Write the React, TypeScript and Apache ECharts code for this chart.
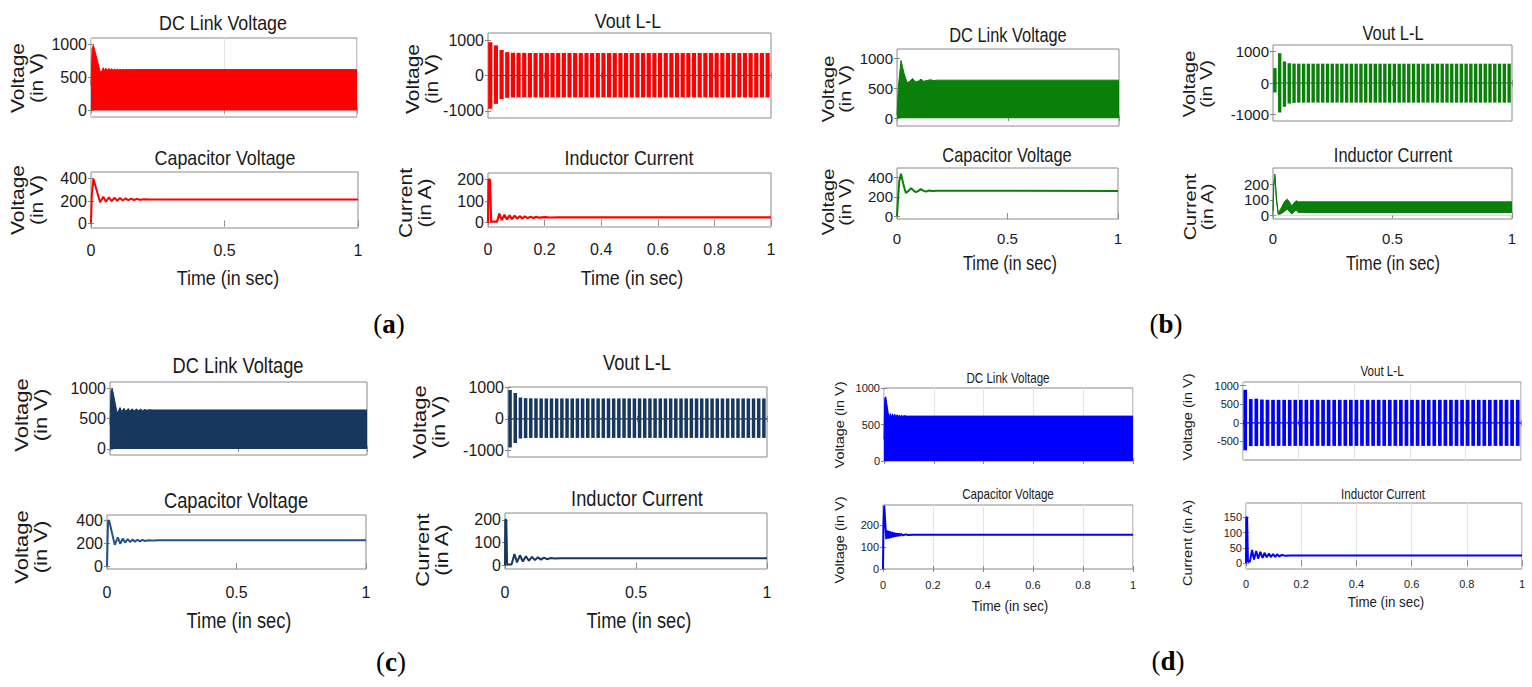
import { useEffect, useRef } from "react";
import * as echarts from "echarts";

const SANS = '"Liberation Sans", Arial, Helvetica, sans-serif';
const SERIF = '"Liberation Serif", "Times New Roman", serif';

// ---------------- data ----------------
// 50 Hz output pulses (one stripe per cycle)
const stripeTimes = [
  0.008, 0.028, 0.048, 0.068, 0.088, 0.108, 0.128, 0.148, 0.168, 0.188,
  0.208, 0.228, 0.248, 0.268, 0.288, 0.308, 0.328, 0.348, 0.368, 0.388,
  0.408, 0.428, 0.448, 0.468, 0.488, 0.508, 0.528, 0.548, 0.568, 0.588,
  0.608, 0.628, 0.648, 0.668, 0.688, 0.708, 0.728, 0.748, 0.768, 0.788,
  0.808, 0.828, 0.848, 0.868, 0.888, 0.908, 0.928, 0.948, 0.968, 0.988,
];

// Panel (a)
const dcTimeA = [0, 0.004, 0.009, 0.035, 0.041, 0.046, 0.051, 0.056, 0.062, 0.067, 0.072, 0.077, 0.083, 0.088, 0.093, 0.098, 0.104, 0.109, 0.114, 0.119, 0.125, 0.13, 0.14, 0.16, 1];
const dcEnvA = [380, 940, 990, 585, 600, 648, 602, 642, 606, 638, 609, 634, 611, 631, 613, 628, 615, 626, 616, 624, 617, 622, 620, 620, 620];
const capTimeA = [0, 0.003, 0.009, 0.034, 0.046, 0.056, 0.067, 0.077, 0.088, 0.098, 0.109, 0.119, 0.13, 0.14, 0.151, 0.161, 0.172, 0.182, 0.2, 0.22, 1];
const capA = [0, 250, 400, 190, 240, 195, 235, 200, 230, 203, 228, 205, 225, 208, 222, 210, 220, 212, 216, 215, 215];
const voutPosA = [
  940, 850, 720, 660, 645, 640, 638, 636, 635, 635,
  635, 635, 635, 635, 635, 635, 635, 635, 635, 635,
  635, 635, 635, 635, 635, 635, 635, 635, 635, 635,
  635, 635, 635, 635, 635, 635, 635, 635, 635, 635,
  635, 635, 635, 635, 635, 635, 635, 635, 635, 635,
];
const voutNegA = [
  -940, -800, -665, -630, -622, -620, -620, -620, -620, -620,
  -620, -620, -620, -620, -620, -620, -620, -620, -620, -620,
  -620, -620, -620, -620, -620, -620, -620, -620, -620, -620,
  -620, -620, -620, -620, -620, -620, -620, -620, -620, -620,
  -620, -620, -620, -620, -620, -620, -620, -620, -620, -620,
];
const indTimeA = [0, 0.002, 0.007, 0.011, 0.032, 0.04, 0.049, 0.058, 0.067, 0.076, 0.085, 0.094, 0.103, 0.112, 0.121, 0.13, 0.14, 0.15, 0.16, 0.17, 0.18, 0.2, 0.22, 0.25, 1];
const indA = [0, 200, 200, 5, 5, 42, 12, 37, 15, 34, 17, 32, 19, 30, 20, 29, 21, 28, 22, 27, 23, 26, 24, 25, 25];

// Panel (b)
const dcTimeB = [0, 0.006, 0.018, 0.032, 0.046, 0.058, 0.07, 0.084, 0.096, 0.108, 0.12, 0.135, 0.15, 0.165, 0.18, 1];
const dcEnvB = [60, 520, 960, 740, 590, 615, 660, 600, 615, 650, 615, 625, 640, 625, 632, 632];
const capTimeB = [0, 0.004, 0.01, 0.018, 0.028, 0.04, 0.052, 0.064, 0.075, 0.086, 0.097, 0.108, 0.12, 0.132, 0.145, 0.16, 0.18, 1];
const capB = [0, 150, 360, 440, 340, 240, 262, 290, 265, 248, 262, 280, 262, 255, 266, 260, 263, 262];
const voutPosB = [
  470, 940, 680, 625, 612, 610, 610, 610, 610, 610,
  610, 610, 610, 610, 610, 610, 610, 610, 610, 610,
  610, 610, 610, 610, 610, 610, 610, 610, 610, 610,
  610, 610, 610, 610, 610, 610, 610, 610, 610, 610,
  610, 610, 610, 610, 610, 610, 610, 610, 610, 610,
];
const voutNegB = [
  -300, -930, -750, -650, -628, -620, -620, -620, -620, -620,
  -620, -620, -620, -620, -620, -620, -620, -620, -620, -620,
  -620, -620, -620, -620, -620, -620, -620, -620, -620, -620,
  -620, -620, -620, -620, -620, -620, -620, -620, -620, -620,
  -620, -620, -620, -620, -620, -620, -620, -620, -620, -620,
];
// inductor current band (ripple envelope): upper and lower edges
const indTimeB = [0, 0.003, 0.008, 0.014, 0.022, 0.035, 0.048, 0.06, 0.07, 0.078, 0.088, 0.097, 0.105, 0.115, 1];
const indHighB = [30, 200, 270, 120, 12, 50, 90, 105, 85, 60, 80, 95, 88, 88, 88];
const indLowB = [0, 190, 250, 100, 5, 10, 25, 40, 20, 8, 20, 35, 18, 18, 18];

// Panel (c)
const dcTimeC = [0, 0.004, 0.009, 0.028, 0.039, 0.046, 0.054, 0.062, 0.071, 0.078, 0.086, 0.094, 0.103, 0.111, 0.119, 0.127, 0.136, 0.144, 0.152, 0.165, 1];
const dcEnvC = [400, 960, 990, 585, 680, 610, 670, 618, 665, 622, 660, 626, 655, 630, 652, 633, 648, 636, 645, 640, 640];
const capTimeC = [0, 0.004, 0.008, 0.03, 0.042, 0.051, 0.061, 0.07, 0.08, 0.089, 0.099, 0.108, 0.118, 0.127, 0.137, 0.147, 0.16, 0.18, 0.2, 1];
const capC = [0, 390, 400, 185, 250, 195, 240, 205, 236, 210, 232, 213, 230, 216, 228, 219, 226, 222, 225, 225];
const voutPosC = [
  905, 810, 670, 650, 645, 642, 640, 640, 640, 640,
  640, 640, 640, 640, 640, 640, 640, 640, 640, 640,
  640, 640, 640, 640, 640, 640, 640, 640, 640, 640,
  640, 640, 640, 640, 640, 640, 640, 640, 640, 640,
  640, 640, 640, 640, 640, 640, 640, 640, 640, 640,
];
const voutNegC = [
  -900, -760, -620, -605, -600, -600, -600, -600, -600, -600,
  -600, -600, -600, -600, -600, -600, -600, -600, -600, -600,
  -600, -600, -600, -600, -600, -600, -600, -600, -600, -600,
  -600, -600, -600, -600, -600, -600, -600, -600, -600, -600,
  -600, -600, -600, -600, -600, -600, -600, -600, -600, -600,
];
const indTimeC = [0, 0.001, 0.005, 0.008, 0.025, 0.036, 0.046, 0.057, 0.068, 0.08, 0.091, 0.103, 0.114, 0.126, 0.137, 0.149, 0.16, 0.175, 0.19, 0.21, 1];
const indC = [0, 200, 200, 5, 5, 50, 14, 45, 18, 41, 21, 38, 24, 36, 26, 35, 28, 33, 31, 32, 32];

// Panel (d)
const dcTimeD = [0, 0.003, 0.007, 0.02, 0.025, 0.029, 0.034, 0.039, 0.043, 0.048, 0.053, 0.057, 0.062, 0.067, 0.071, 0.076, 0.081, 0.09, 0.1, 1];
const dcEnvD = [300, 860, 880, 585, 650, 598, 645, 602, 640, 605, 635, 607, 630, 609, 626, 611, 622, 615, 615, 615];
const capTimeD = [0, 0.002, 0.005, 0.008, 0.013, 0.018, 0.022, 0.027, 0.031, 0.036, 0.04, 0.045, 0.049, 0.054, 0.058, 0.063, 0.067, 0.072, 0.08, 0.09, 0.1, 0.12, 1];
const capD = [0, 200, 288, 230, 135, 175, 138, 172, 140, 168, 143, 166, 146, 163, 148, 161, 150, 159, 152, 157, 154, 155, 155];
const voutPosD = [
  890, 640, 650, 628, 622, 620, 620, 620, 620, 620,
  620, 620, 620, 620, 620, 620, 620, 620, 620, 620,
  620, 620, 620, 620, 620, 620, 620, 620, 620, 620,
  620, 620, 620, 620, 620, 620, 620, 620, 620, 620,
  620, 620, 620, 620, 620, 620, 620, 620, 620, 620,
];
const voutNegD = [
  -740, -625, -625, -622, -620, -620, -620, -620, -620, -620,
  -620, -620, -620, -620, -620, -620, -620, -620, -620, -620,
  -620, -620, -620, -620, -620, -620, -620, -620, -620, -620,
  -620, -620, -620, -620, -620, -620, -620, -620, -620, -620,
  -620, -620, -620, -620, -620, -620, -620, -620, -620, -620,
];
const indTimeD = [0, 0.001, 0.004, 0.007, 0.014, 0.022, 0.029, 0.037, 0.044, 0.052, 0.06, 0.067, 0.075, 0.083, 0.09, 0.098, 0.106, 0.113, 0.121, 0.13, 0.145, 0.16, 1];
const indD = [0, 150, 150, 5, 5, 43, 12, 40, 15, 37, 17, 34, 19, 32, 20, 30, 21, 29, 22, 27, 24, 25, 25];

// zero reference of the line-to-line voltage
const zeroTimes = [0, 1];
const zeroVals = [0, 0];

// tick labels
const yTicksDC = [0, 500, 1000];
const yTicksCap = [0, 200, 400];
const yTicksVout = [-1000, 0, 1000];
const yTicksInd = [0, 100, 200];
const yTicksCapD = [0, 100, 200];
const yTicksVoutD = [-500, 0, 500, 1000];
const yTicksIndD = [0, 50, 100, 150];

const titles = ["DC Link Voltage", "Capacitor Voltage", "Vout L-L", "Inductor Current"];
const xTitle = "Time (in sec)";
const yTitleV = "Voltage (in V)";
const yTitleI = "Current (in A)";
const panelLetters = ["a", "b", "c", "d"];

// ---------------- helpers ----------------
const zip = (t: number[], v: number[]) => t.map((x, i) => [x, v[i]]);

type Sub = {
  box: number[];
  y: number[];
  yTicks: number[];
  xStep: number;
  xLabels: boolean;
  fs: number;
  xMargin: number;
  gridX: boolean;
};

const COL_A = "#ff0000";
const COL_B = "#0a7f0a";
const COL_C = "#17375e";
const COL_C2 = "#24528a";
const COL_D = "#0000ff";
const BORDER = "#8a8a8a";
const INK = "#1a1a1a";

const subs: Sub[] = [
  // (a)
  { box: [91, 38, 357, 117], y: [-100, 1100], yTicks: yTicksDC, xStep: 0.5, xLabels: false, fs: 16, xMargin: 14, gridX: true },
  { box: [91, 172, 358, 228], y: [-40, 460], yTicks: yTicksCap, xStep: 0.5, xLabels: true, fs: 16, xMargin: 14, gridX: false },
  { box: [488, 33, 771, 118], y: [-1200, 1200], yTicks: yTicksVout, xStep: 0.2, xLabels: false, fs: 16, xMargin: 14, gridX: false },
  { box: [488, 173, 771, 227], y: [-20, 230], yTicks: yTicksInd, xStep: 0.2, xLabels: true, fs: 16, xMargin: 14, gridX: false },
  // (b)
  { box: [897, 49, 1119, 126], y: [-130, 1150], yTicks: yTicksDC, xStep: 0.5, xLabels: false, fs: 15, xMargin: 12, gridX: false },
  { box: [897, 168, 1118, 219], y: [-30, 500], yTicks: yTicksCap, xStep: 0.5, xLabels: true, fs: 15, xMargin: 12, gridX: false },
  { box: [1273, 45, 1512, 121], y: [-1200, 1200], yTicks: yTicksVout, xStep: 0.5, xLabels: false, fs: 15, xMargin: 12, gridX: false },
  { box: [1273, 168, 1512, 219], y: [-25, 310], yTicks: yTicksInd, xStep: 0.5, xLabels: true, fs: 15, xMargin: 12, gridX: false },
  // (c)
  { box: [110, 382, 367, 455], y: [-100, 1100], yTicks: yTicksDC, xStep: 0.5, xLabels: false, fs: 16, xMargin: 15, gridX: false },
  { box: [107, 515, 366, 569], y: [-25, 445], yTicks: yTicksCap, xStep: 0.5, xLabels: true, fs: 16, xMargin: 15, gridX: false },
  { box: [508, 387, 767, 457], y: [-1200, 1000], yTicks: yTicksVout, xStep: 0.5, xLabels: false, fs: 16, xMargin: 15, gridX: false },
  { box: [505, 513, 767, 569], y: [-15, 230], yTicks: yTicksInd, xStep: 0.5, xLabels: true, fs: 16, xMargin: 15, gridX: false },
  // (d)
  { box: [884, 388, 1133, 461], y: [0, 1000], yTicks: yTicksDC, xStep: 0.2, xLabels: false, fs: 11, xMargin: 10, gridX: true },
  { box: [883, 505, 1133, 569], y: [0, 290], yTicks: yTicksCapD, xStep: 0.2, xLabels: true, fs: 11, xMargin: 10, gridX: true },
  { box: [1243, 382, 1521, 460], y: [-1000, 1100], yTicks: yTicksVoutD, xStep: 0.2, xLabels: false, fs: 11, xMargin: 9, gridX: true },
  { box: [1246, 503, 1522, 569], y: [-19, 197], yTicks: yTicksIndD, xStep: 0.2, xLabels: true, fs: 11, xMargin: 9, gridX: true },
];

const plain = (v: number) => String(v);

function areaSeries(i: number, t: number[], v: number[], color: string) {
  return {
    type: "line", xAxisIndex: i, yAxisIndex: i, data: zip(t, v), symbol: "none", silent: true,
    lineStyle: { color, width: 1 }, itemStyle: { color }, areaStyle: { color, opacity: 1 },
  };
}
function lineSeries(i: number, t: number[], v: number[], color: string, width: number) {
  return {
    type: "line", xAxisIndex: i, yAxisIndex: i, data: zip(t, v), symbol: "none", silent: true,
    lineStyle: { color, width }, itemStyle: { color },
  };
}
function stripeSeries(i: number, pos: number[], neg: number[], color: string, bw: number) {
  const stack = "vout" + i;
  return [
    { type: "bar", xAxisIndex: i, yAxisIndex: i, stack, data: zip(stripeTimes, pos), barWidth: bw, itemStyle: { color }, silent: true },
    { type: "bar", xAxisIndex: i, yAxisIndex: i, stack, data: zip(stripeTimes, neg), barWidth: bw, itemStyle: { color }, silent: true },
    lineSeries(i, zeroTimes, zeroVals, color, 1.2),
  ];
}
// ripple band: filled up to the upper edge, then cleared below the lower edge
function bandSeries(i: number, t: number[], low: number[], high: number[], color: string) {
  return [
    {
      type: "line", xAxisIndex: i, yAxisIndex: i, data: zip(t, high), symbol: "none", silent: true,
      lineStyle: { color, width: 1 }, itemStyle: { color }, areaStyle: { color, opacity: 1 },
    },
    {
      type: "line", xAxisIndex: i, yAxisIndex: i, data: zip(t, low), symbol: "none", silent: true,
      lineStyle: { color, width: 1 }, itemStyle: { color }, areaStyle: { color: "#ffffff", opacity: 1 },
    },
  ];
}

function txt(text: string, x: number, y: number, fs: number, sx: number, rotated = false) {
  return {
    type: "text", x, y, silent: true,
    rotation: rotated ? Math.PI / 2 : 0,
    scaleX: rotated ? 1 : sx,
    scaleY: rotated ? sx : 1,
    style: {
      text, fontSize: fs, fontFamily: SANS, fill: INK, lineHeight: Math.round(fs * 1.0),
      align: "center", verticalAlign: "middle", textAlign: "center", textVerticalAlign: "middle",
    },
  };
}
function letter(l: string, x: number, y: number) {
  return {
    type: "text", x, y, silent: true,
    style: {
      text: "{p|(}{b|" + l + "}{p|)}",
      fontSize: 27, fontFamily: SERIF, fill: "#000",
      align: "center", verticalAlign: "middle", textAlign: "center", textVerticalAlign: "middle",
      rich: {
        p: { fontSize: 27, fontFamily: SERIF, fontWeight: "normal", fill: "#000" },
        b: { fontSize: 27, fontFamily: SERIF, fontWeight: "bold", fill: "#000" },
      },
    },
  };
}

const vv = yTitleV.replace(" (", "\n(");
const ii = yTitleI.replace(" (", "\n(");

function buildOption() {
  const n = subs.length;
  const grid = subs.map((s) => ({
    left: s.box[0], top: s.box[1], width: s.box[2] - s.box[0], height: s.box[3] - s.box[1],
    show: true, borderColor: BORDER, borderWidth: 1, backgroundColor: "#ffffff",
  }));
  const tickStyle = { color: BORDER };
  const xAxis: any[] = subs.map((s, i) => ({
    type: "value", gridIndex: i, min: 0, max: 1, interval: s.xStep, position: "bottom",
    axisLine: { show: false },
    axisTick: { show: true, inside: true, length: 3, lineStyle: tickStyle },
    axisLabel: { show: s.xLabels, fontSize: s.fs, fontFamily: SANS, color: INK, margin: s.xMargin, formatter: plain },
    splitLine: { show: s.gridX, lineStyle: { color: "#e4e4e4", width: 1 } },
  }));
  // mirrored ticks on the top edge
  subs.forEach((s, i) => {
    xAxis.push({
      type: "value", gridIndex: i, min: 0, max: 1, interval: s.xStep, position: "top",
      axisLine: { show: false },
      axisTick: { show: true, inside: true, length: 3, lineStyle: tickStyle },
      axisLabel: { show: false }, splitLine: { show: false },
    });
  });
  const yAxis: any[] = subs.map((s, i) => ({
    type: "value", gridIndex: i, min: s.y[0], max: s.y[1], position: "left",
    axisLine: { show: false },
    axisTick: { show: true, inside: true, length: 3, lineStyle: tickStyle, customValues: s.yTicks },
    axisLabel: { show: true, fontSize: s.fs, fontFamily: SANS, color: INK, margin: 4, customValues: s.yTicks, formatter: plain },
    splitLine: { show: false },
  }));
  // mirrored ticks on the right edge
  subs.forEach((s, i) => {
    yAxis.push({
      type: "value", gridIndex: i, min: s.y[0], max: s.y[1], position: "right",
      axisLine: { show: false },
      axisTick: { show: true, inside: true, length: 3, lineStyle: tickStyle, customValues: s.yTicks },
      axisLabel: { show: false, customValues: s.yTicks }, splitLine: { show: false },
    });
  });

  const series: any[] = [
    // (a)
    areaSeries(0, dcTimeA, dcEnvA, COL_A),
    lineSeries(1, capTimeA, capA, COL_A, 2),
    ...stripeSeries(2, voutPosA, voutNegA, COL_A, 4.2),
    lineSeries(3, indTimeA, indA, COL_A, 2.2),
    // (b)
    areaSeries(4, dcTimeB, dcEnvB, COL_B),
    lineSeries(5, capTimeB, capB, COL_B, 2),
    ...stripeSeries(6, voutPosB, voutNegB, COL_B, 3.4),
    ...bandSeries(7, indTimeB, indLowB, indHighB, COL_B),
    // (c)
    areaSeries(8, dcTimeC, dcEnvC, COL_C),
    lineSeries(9, capTimeC, capC, COL_C2, 2),
    ...stripeSeries(10, voutPosC, voutNegC, COL_C, 3.5),
    lineSeries(11, indTimeC, indC, COL_C, 2),
    // (d)
    areaSeries(12, dcTimeD, dcEnvD, COL_D),
    lineSeries(13, capTimeD, capD, COL_D, 2),
    ...stripeSeries(14, voutPosD, voutNegD, COL_D, 3.7),
    lineSeries(15, indTimeD, indD, COL_D, 2),
  ];
  void n;

  const graphic: any[] = [
    // (a)
    txt(titles[0], 223, 22, 21, 0.85), txt(titles[1], 225, 157, 21, 0.85), txt(xTitle, 228, 277, 21, 0.85),
    txt(titles[2], 628, 20, 21, 0.85), txt(titles[3], 629, 157, 21, 0.85), txt(xTitle, 632, 277, 21, 0.85),
    txt(vv, 27, 78, 21, 0.87, true), txt(vv, 27, 200, 21, 0.87, true),
    txt(vv, 422, 79, 21, 0.87, true), txt(ii, 415, 203, 21, 0.87, true),
    // (b)
    txt(titles[0], 1008, 35, 20, 0.82), txt(titles[1], 1007, 155, 20, 0.82), txt(xTitle, 1010, 263, 20, 0.82),
    txt(titles[2], 1393, 33, 20, 0.82), txt(titles[3], 1393, 155, 20, 0.82), txt(xTitle, 1393, 263, 20, 0.82),
    txt(vv, 837, 89, 20, 0.85, true), txt(vv, 837, 202, 20, 0.85, true),
    txt(vv, 1198, 84, 20, 0.85, true), txt(ii, 1199, 207, 20, 0.85, true),
    // (c)
    txt(titles[0], 238, 365, 22, 0.83), txt(titles[1], 236, 500, 22, 0.83), txt(xTitle, 239, 620, 22, 0.83),
    txt(titles[2], 637, 362, 22, 0.83), txt(titles[3], 637, 498, 22, 0.83), txt(xTitle, 639, 620, 22, 0.83),
    txt(vv, 31, 415, 22, 0.85, true), txt(vv, 31, 547, 22, 0.85, true),
    txt(vv, 429, 422, 22, 0.85, true), txt(ii, 432, 550, 22, 0.85, true),
    // (d)
    txt(titles[0], 1008, 378, 14.5, 0.8), txt(titles[1], 1008, 494, 14.5, 0.8), txt(xTitle, 1010, 606, 15.5, 0.86),
    txt(titles[2], 1382, 371, 14.5, 0.8), txt(titles[3], 1383, 494, 14.5, 0.8), txt(xTitle, 1386, 602, 15.5, 0.86),
    txt(yTitleV, 840, 425, 14.5, 0.85, true), txt(yTitleV, 840, 540, 14.5, 0.85, true),
    txt(yTitleV, 1188, 417, 14.5, 0.85, true), txt(yTitleI, 1188, 543, 14.5, 0.85, true),
    // panel letters
    letter(panelLetters[0], 389, 324), letter(panelLetters[1], 1166, 324),
    letter(panelLetters[2], 391, 662), letter(panelLetters[3], 1168, 661),
  ];

  return {
    animation: false,
    backgroundColor: "#ffffff",
    grid, xAxis, yAxis, series, graphic,
  };
}

export default function App() {
  const ref = useRef<HTMLDivElement | null>(null);
  useEffect(() => {
    if (!ref.current) return;
    const chart = echarts.init(ref.current, null, { renderer: "svg" });
    chart.setOption(buildOption() as any);
    return () => chart.dispose();
  }, []);
  return (
    <div
      ref={ref}
      style={{ position: "fixed", left: 0, top: 0, width: 1532, height: 687, background: "#fff" }}
    />
  );
}
